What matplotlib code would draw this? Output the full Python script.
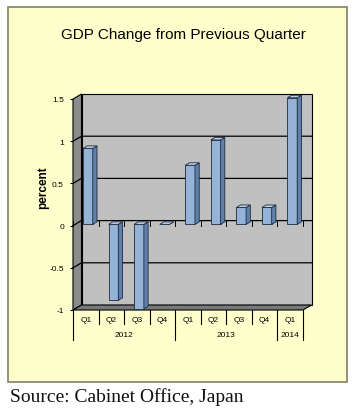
"""
GDP change from previous quarter, Japan (Excel-style 3D column chart).
"""

import matplotlib
matplotlib.use("Agg")
import matplotlib.pyplot as plt
import matplotlib.patches as patches
import matplotlib.transforms as transforms

# Dati
quarters = ["Q1", "Q2", "Q3", "Q4", "Q1", "Q2", "Q3", "Q4", "Q1"]
years = ["2012", "2013", "2014"]
year_counts = [4, 4, 1]
gdp_change = [0.9, -0.9, -1.0, 0.0, 0.7, 1.0, 0.2, 0.2, 1.5]
y_ticks = [-1, -0.5, 0, 0.5, 1, 1.5]
y_tick_labels = ["-1", "-0.5", "0", "0.5", "1", "1.5"]

W, H = 356, 410

# Colori
BOX_FILL = "#FFFFCC"
WALL = "#C0C0C0"
SIDE_WALL = "#8C8C8C"
FLOOR = "#7A7A7A"
BAR_FRONT = "#95B3D7"
BAR_SIDE = "#5F80AA"
BAR_TOP = "#BCD0EA"
BAR_EDGE = "#1E2B3C"

fig = plt.figure(figsize=(W / 100, H / 100), dpi=100)
fig.patch.set_facecolor("white")

# Riquadro giallo del grafico (sotto a tutto il resto)
fig.patches.append(patches.Rectangle(
    (8 / W, 1 - 383 / H), 339 / W, 375 / H,
    transform=fig.transFigure, facecolor=BOX_FILL,
    edgecolor="#7F7F6A", linewidth=1.2, zorder=-10
))

fig.text(183 / W, 1 - 35 / H, "GDP Change from Previous Quarter",
         ha="center", va="center", fontsize=11, family="Liberation Sans")

# Asse principale = piano frontale del grafico 3D
ax = fig.add_axes([73 / W, 1 - 311 / H, 230 / W, 211 / H])
ax.set_zorder(5)
ax.set_xlim(-0.5, len(gdp_change) - 0.5)
ax.set_ylim(y_ticks[0], y_ticks[-1])
ax.patch.set_visible(False)
for s in ax.spines.values():
    s.set_visible(False)

# profondita' in unita' dati (circa 8.5 px a destra, 5 px in alto)
DX = 8.5 / (230 / len(gdp_change))
DY = 5 * (y_ticks[-1] - y_ticks[0]) / 211

x0, x1 = -0.5, len(gdp_change) - 0.5
ymin, ymax = y_ticks[0], y_ticks[-1]

# Parete di fondo, parete laterale, pavimento
ax.add_patch(patches.Polygon(
    [(x0 + DX, ymin + DY), (x1 + DX, ymin + DY), (x1 + DX, ymax + DY), (x0 + DX, ymax + DY)],
    closed=True, facecolor=WALL, edgecolor="black", linewidth=0.8, clip_on=False, zorder=1
))
ax.add_patch(patches.Polygon(
    [(x0, ymin), (x0 + DX, ymin + DY), (x0 + DX, ymax + DY), (x0, ymax)],
    closed=True, facecolor=SIDE_WALL, edgecolor="black", linewidth=0.8, clip_on=False, zorder=1
))
ax.add_patch(patches.Polygon(
    [(x0, ymin), (x1, ymin), (x1 + DX, ymin + DY), (x0 + DX, ymin + DY)],
    closed=True, facecolor=FLOOR, edgecolor="black", linewidth=0.8, clip_on=False, zorder=1
))

# Griglia sulle pareti
for v in y_ticks[1:-1]:
    ax.plot([x0, x0 + DX, x1 + DX], [v, v + DY, v + DY],
            color="black", linewidth=0.9, clip_on=False, zorder=2)

# tacche dell'asse categorie sulla linea dello zero
for i in range(len(gdp_change) + 1):
    xb = i - 0.5
    ax.plot([xb, xb], [0, DY], color="black", linewidth=0.7, clip_on=False, zorder=2)

# Barre 3D
bw = 0.38
f0, f1 = 0.25, 0.75
for i, v in enumerate(gdp_change):
    xl, xr = i - bw / 2, i + bw / 2
    top = max(v, 0)
    # faccia frontale
    ax.add_patch(patches.Polygon(
        [(xl + f0 * DX, f0 * DY), (xr + f0 * DX, f0 * DY),
         (xr + f0 * DX, v + f0 * DY), (xl + f0 * DX, v + f0 * DY)],
        closed=True, facecolor=BAR_FRONT, edgecolor=BAR_EDGE, linewidth=0.6,
        clip_on=False, zorder=4
    ))
    # lato destro
    ax.add_patch(patches.Polygon(
        [(xr + f0 * DX, f0 * DY), (xr + f1 * DX, f1 * DY),
         (xr + f1 * DX, v + f1 * DY), (xr + f0 * DX, v + f0 * DY)],
        closed=True, facecolor=BAR_SIDE, edgecolor=BAR_EDGE, linewidth=0.6,
        clip_on=False, zorder=4
    ))
    # faccia superiore
    ax.add_patch(patches.Polygon(
        [(xl + f0 * DX, top + f0 * DY), (xr + f0 * DX, top + f0 * DY),
         (xr + f1 * DX, top + f1 * DY), (xl + f1 * DX, top + f1 * DY)],
        closed=True, facecolor=BAR_TOP, edgecolor=BAR_EDGE, linewidth=0.6,
        clip_on=False, zorder=4
    ))

# Asse Y
ax.set_yticks(y_ticks)
ax.set_yticklabels(y_tick_labels, fontsize=6, family="Liberation Sans")
ax.tick_params(axis="y", length=2.5, width=0.8, pad=4)
ax.set_xticks([])

fig.text(43 / W, 1 - 188 / H, "percent", rotation=90, ha="center", va="center",
         fontsize=8.5, fontweight="bold", family="Liberation Sans")

# Asse categorie a due livelli (trimestri / anni)
trans = transforms.blended_transform_factory(ax.transData, ax.transAxes)
for i, q in enumerate(quarters):
    ax.text(i, -0.046, q, transform=trans, ha="center", va="center",
            fontsize=6, family="Liberation Sans")

start = 0
year_bounds = [0]
for yr, n in zip(years, year_counts):
    ax.text(start + (n - 1) / 2, -0.115, yr, transform=trans, ha="center",
            va="center", fontsize=6, family="Liberation Sans")
    start += n
    year_bounds.append(start)

for i in range(len(quarters) + 1):
    low = -0.142 if i in year_bounds else -0.066
    ax.plot([i - 0.5, i - 0.5], [0, low], transform=trans, color="black",
            linewidth=0.8, clip_on=False)

fig.text(10 / W, 1 - 397 / H, "Source: Cabinet Office, Japan",
         ha="left", va="center", fontsize=14, family="Liberation Serif",
         color="#111111")

fig.savefig("out.png", dpi=100)
